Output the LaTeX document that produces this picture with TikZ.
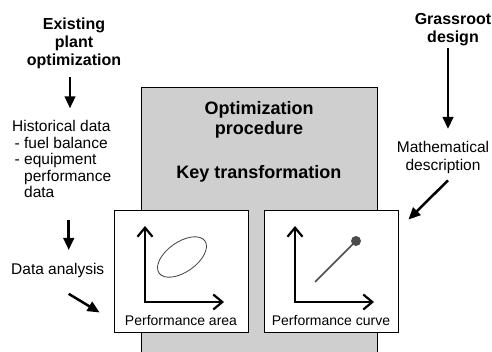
\documentclass[tikz,border=0pt]{standalone}
\usepackage{fontspec}
\setmainfont{Liberation Sans}
\usetikzlibrary{arrows.meta}

\begin{document}
\begin{tikzpicture}[x=1pt,y=-1pt,
        txt/.style={inner sep=0pt,font=\fontsize{15.5}{16.6}\selectfont},
        hdr/.style={inner sep=0pt,align=center,font=\bfseries\fontsize{16}{18}\selectfont},
        big/.style={inner sep=0pt,align=center,font=\bfseries\fontsize{18}{20}\selectfont},
        lbl/.style={inner sep=0pt,font=\fontsize{14}{16}\selectfont},
        flow/.style={line width=2.5pt,-{Triangle[length=12pt,width=10.5pt]}},
        axis/.style={line width=2.2pt,{Straight Barb[length=9pt,width=15pt]}-{Straight Barb[length=9pt,width=15pt]}},
        plotbox/.style={draw,fill=white,line width=0.9pt,minimum width=134pt,minimum height=122pt,inner sep=0pt}]
                \useasboundingbox (0,0) rectangle (492,352);
                % procedure block, open at the bottom
                \begin{scope}
                    \clip (0,0) rectangle (492,352);
                    \filldraw[fill=black!19,line width=0.9pt] (141,360) -- (141,87) -- (377,87) -- (377,360);
                \end{scope}
                \node[big,anchor=north] (proc) at (259,101) {Optimization\\procedure};
                \node[big,anchor=north] (key) at (259,165) {Key transformation};
                % left column
                \node[hdr,anchor=north] (exist) at (74,18) {Existing\\plant\\optimization};
                \node[txt,align=left,anchor=north west] (hist) at (12,120) {Historical data\\\hspace*{2.5pt}- fuel balance\\\hspace*{2.5pt}- equipment\\\hspace*{12pt}performance\\\hspace*{12pt}data};
                \node[txt,anchor=north west] (analysis) at (11,263) {Data analysis};
                % right column
                \node[hdr,anchor=north] (grass) at (453,13) {Grassroot\\design};
                \node[txt,align=center,anchor=north,font=\fontsize{15.5}{18.5}\selectfont] (math) at (443,141) {Mathematical\\description};
                % the two plot frames
                \foreach \x/\nm/\lab in {114/area/Performance area,264/curve/Performance curve}{
                    \node[plotbox] (\nm) at (\x+67,271) {};
                    \draw[axis] (\x+31,226) -- (\x+31,302) -- (\x+110,302);
                    \node[lbl,anchor=base] (\nm-lbl) at (\x+67,325) {\lab};
                }
                \draw[line width=0.8pt,black!75,rotate around={35:(182,257)}] (182,257) ellipse [x radius=28,y radius=15];
                \draw[line width=1.6pt,black!70] (315,282) -- (356,241);
                \fill[black!70] (356,241) circle [radius=5];
                % arrows
                \draw[flow] (exist.south) ++(-4,8) -- ++(0,31);
                \draw[flow] (analysis.north) ++(11,-43) -- ++(0,30);
                \draw[flow] (analysis.south) ++(11,16) -- ([shift={(-14,-20)}]area.south west);
                \draw[flow] (grass.south) ++(-5,2) -- ++(0,81);
                \draw[flow] (math.south) ++(5,6) -- ([shift={(10,10)}]curve.north east);
            \end{tikzpicture}
\end{document}
